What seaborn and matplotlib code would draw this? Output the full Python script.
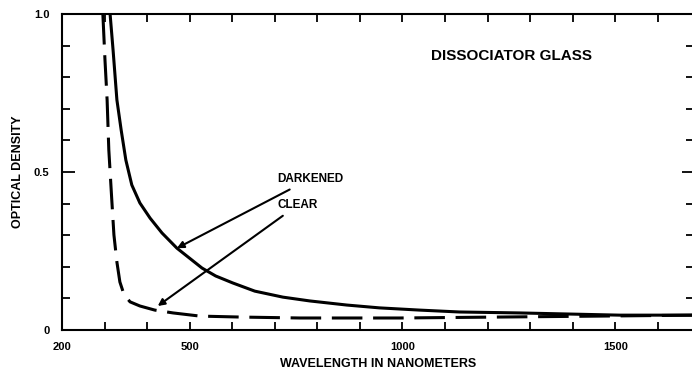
import matplotlib
matplotlib.use("Agg")
import matplotlib.pyplot as plt
from matplotlib.ticker import MultipleLocator, FixedLocator
import seaborn as sns
import pandas as pd

# -----------------------------
# Data
# -----------------------------
clear_nm = [296, 301, 306, 310, 317, 322, 329, 336, 346, 360, 383, 418, 461,
            524, 618, 759, 993, 1228, 1463, 1683]
clear_od = [1.0, 0.854, 0.728, 0.570, 0.411, 0.301, 0.215, 0.152, 0.111, 0.089,
            0.076, 0.063, 0.054, 0.044, 0.041, 0.038, 0.038, 0.041, 0.044, 0.047]

dark_nm = [313, 320, 329, 339, 350, 364, 383, 407, 435, 470, 529, 561, 601,
           653, 719, 782, 869, 946, 1040, 1134, 1275, 1510, 1683]
dark_od = [1.0, 0.886, 0.728, 0.633, 0.538, 0.459, 0.402, 0.354, 0.307, 0.259,
           0.196, 0.171, 0.149, 0.123, 0.104, 0.092, 0.079, 0.070, 0.063,
           0.057, 0.054, 0.047, 0.047]

x_major = [200, 500, 1000, 1500]
y_major = [0, 0.5, 1.0]
y_labels = ["0", "0.5", "1.0"]

clear_df = pd.DataFrame({"nm": clear_nm, "od": clear_od})
dark_df = pd.DataFrame({"nm": dark_nm, "od": dark_od})

# -----------------------------
# Figure
# -----------------------------
sns.set_style("ticks")
plt.rcParams["font.family"] = ["Liberation Sans", "DejaVu Sans"]
plt.rcParams["font.weight"] = "bold"
plt.rcParams["text.color"] = "black"
plt.rcParams["axes.labelcolor"] = "black"
plt.rcParams["xtick.color"] = "black"
plt.rcParams["ytick.color"] = "black"

fig = plt.figure(figsize=(6.92, 3.73), dpi=100)
ax = fig.add_axes([62 / 692, 43 / 373, 632 / 692, 316 / 373])

sns.lineplot(data=dark_df, x="nm", y="od", ax=ax, color="black",
             linewidth=2.2, sort=False)
sns.lineplot(data=clear_df, x="nm", y="od", ax=ax, color="black",
             linewidth=2.2, sort=False)
ax.lines[-1].set_dashes((10, 3.5))
for ln in ax.lines:
    ln.set_solid_joinstyle("round")
    ln.set_dash_joinstyle("round")

ax.set_xlim(200, 1685)
ax.set_ylim(0, 1.0)

# ticks
ax.xaxis.set_major_locator(FixedLocator(x_major))
ax.xaxis.set_minor_locator(MultipleLocator(100))
ax.yaxis.set_major_locator(FixedLocator(y_major))
ax.yaxis.set_minor_locator(MultipleLocator(0.1))
ax.set_yticklabels(y_labels)

ax.tick_params(axis="both", which="both", direction="in",
               top=True, right=True, width=1.3, color="black",
               labelsize=8, labelcolor="black")
ax.tick_params(axis="x", which="both", length=6, pad=9)
ax.tick_params(axis="y", which="minor", length=6)
ax.tick_params(axis="y", which="major", length=9, pad=9)

for s in ax.spines.values():
    s.set_linewidth(1.5)
    s.set_color("black")
    s.set_visible(True)

for lbl in ax.get_xticklabels() + ax.get_yticklabels():
    lbl.set_fontweight("bold")

ax.set_xlabel("WAVELENGTH IN NANOMETERS", fontsize=9, fontweight="bold",
              labelpad=4)
ax.set_ylabel("OPTICAL DENSITY", fontsize=9, fontweight="bold",
              labelpad=7)

# -----------------------------
# Annotations
# -----------------------------
ax.text(1068, 0.867, "DISSOCIATOR GLASS", fontsize=11, fontweight="bold",
        va="center", ha="left")

ax.annotate("DARKENED", xy=(470, 0.259), xytext=(705, 0.478),
            fontsize=8.5, fontweight="bold", va="center", ha="left",
            arrowprops=dict(arrowstyle="-|>", color="black", lw=1.5,
                            mutation_scale=10, shrinkA=2, shrinkB=0))
ax.annotate("CLEAR", xy=(425, 0.076), xytext=(707, 0.396),
            fontsize=8.5, fontweight="bold", va="center", ha="left",
            arrowprops=dict(arrowstyle="-|>", color="black", lw=1.5,
                            mutation_scale=10, shrinkA=2, shrinkB=0))

fig.savefig("out.png", dpi=100)
plt.close(fig)
